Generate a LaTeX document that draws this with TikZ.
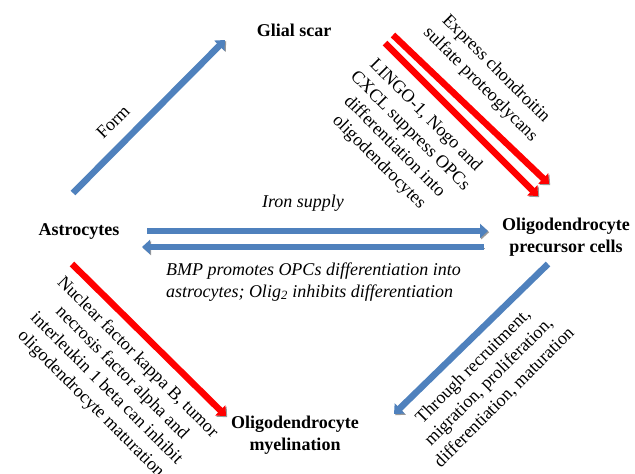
\documentclass[tikz,border=0pt]{standalone}
\usepackage{fontspec}
\setmainfont{Liberation Serif}
\usetikzlibrary{arrows.meta}
\definecolor{arrowblue}{HTML}{4F81BD}
\definecolor{arrowred}{HTML}{FF0000}
\tikzstyle{cell}=[font=\fontsize{18}{21.5}\selectfont\bfseries,align=center,inner sep=1pt]
\tikzstyle{note}=[font=\fontsize{18}{22}\selectfont,align=center,inner sep=1pt]
\tikzstyle{shaft}=[line width=6.5pt,-{Triangle[length=8pt,width=14pt]},preaction={draw=black!40,transform canvas={shift={(1.2pt,-1.2pt)}}}]
\begin{document}
\begin{tikzpicture}[x=1pt,y=-1pt]
\useasboundingbox (0,0) rectangle (635,474);
\node[cell] (glial) at (294,30) {Glial scar};
\node[cell] (astro) at (79,231) {Astrocytes};
\node[cell] (opc) at (566,237) {Oligodendrocyte\\precursor cells};
\node[cell] (myelin) at (295,435) {Oligodendrocyte\\myelination};

% arrow ends
\coordinate (formS) at (73,193);
\coordinate (formE) at (225,40);
\coordinate (exprS) at (393,35);
\coordinate (exprE) at (549,184);
\coordinate (lingoS) at (385,43);
\coordinate (lingoE) at (538,196);
\coordinate (ironS) at (147,231);
\coordinate (ironE) at (488,231);
\coordinate (bmpS) at (484,247);
\coordinate (bmpE) at (142,247);
\coordinate (nucS) at (72,264);
\coordinate (nucE) at (226,416);
\coordinate (thruS) at (548,264);
\coordinate (thruE) at (394,414);

\draw[shaft,arrowblue] (formS) -- (formE);
\draw[shaft,arrowred] (exprS) -- (exprE);
\draw[shaft,arrowred] (lingoS) -- (lingoE);
\draw[shaft,arrowblue] (ironS) -- (ironE);
\draw[shaft,arrowblue] (bmpS) -- (bmpE);
\draw[shaft,arrowred] (nucS) -- (nucE);
\draw[shaft,arrowblue] (thruS) -- (thruE);

% labels
\node[note,rotate=45] (formlbl) at (113,122) {Form};
\node[note,rotate=-45] (exprlbl) at (488,77) {Express chondroitin\\sulfate proteoglycans};
\node[note,rotate=-45] (lingolbl) at (402,139) {LINGO-1, Nogo and\\CXCL suppress OPCs\\differentiation into\\oligodendrocytes};
\node[note,font=\fontsize{18}{21.5}\selectfont\itshape] (ironlbl) at (303,203) {Iron supply};
\node[note,font=\fontsize{18}{21.5}\selectfont\itshape,align=left,anchor=west] (bmplbl) at (165,282) {BMP promotes OPCs differentiation into\\astrocytes; Olig\textsubscript{2} inhibits differentiation};
\node[note,rotate=-45] (nuclbl) at (114,381) {Nuclear factor kappa B, tumor\\necrosis factor alpha and\\interleukin 1 beta can inhibit\\oligodendrocyte maturation};
\node[note,rotate=45] (thrulbl) at (489,382) {Through recruitment,\\migration, proliferation,\\differentiation, maturation};
\end{tikzpicture}
\end{document}
